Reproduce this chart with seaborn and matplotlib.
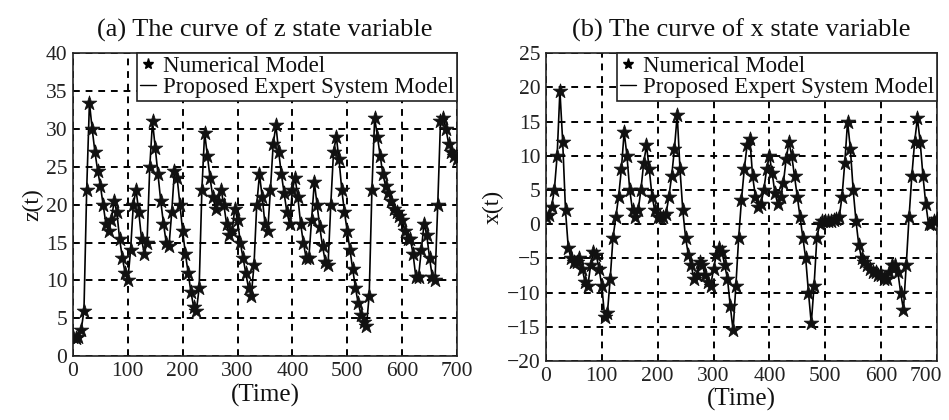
import numpy as np
import pandas as pd
import matplotlib
matplotlib.use("Agg")
import matplotlib.pyplot as plt
import matplotlib.transforms as mtransforms
import seaborn as sns
from matplotlib.lines import Line2D

# ---------------- data (step of 5 time units) ----------------
time = list(range(0, 705, 5))

z_values = [
    2.5, 2.4, 2.5, 3.5, 6, 22, 33.5, 30, 27, 24.5,
    22.5, 20, 17.5, 16.5, 18, 20.5, 19, 15.5, 13, 11,
    10, 14, 20, 22, 19, 15.5, 13.5, 15, 25, 31,
    27.5, 24, 20.5, 17.5, 15, 14.5, 19, 24.5, 23.5, 20,
    16.5, 13.5, 11, 8.5, 6.5, 6, 9, 22, 29.5, 26.5,
    23.5, 21, 19.5, 20.5, 22, 20, 17.5, 16, 16.5, 19.5,
    18, 15, 13, 11, 9, 8, 12, 20, 24, 21,
    17.5, 16.5, 22, 28, 30.5, 27, 24, 21.5, 19, 17.5,
    22, 23.5, 21, 17.5, 15, 13, 13, 18, 23, 20,
    17, 14.5, 12.5, 12, 20, 27, 29, 26, 22, 19,
    16.5, 14, 11.5, 9, 7, 5.5, 4.5, 4, 8, 22,
    31.5, 29, 26.5, 24, 22.5, 21.5, 20.5, 19.5, 19, 18.5,
    18, 16.5, 15.5, 15.5, 13.5, 10.5, 10.5, 14, 17.5, 16,
    13, 10.5, 10, 20, 31, 31.5, 30, 28, 27, 26.5,
    26,
]

x_values = [
    1.0, 1.3, 2.5, 5, 10, 19.5, 12, 2, -3.5, -5,
    -5.5, -5.5, -5, -6.5, -8.5, -9, -6, -4, -4.5, -6.5,
    -9, -13.5, -13, -8, -2, 1, 4, 8, 13.5, 10,
    5, 2, 1, 2, 5, 9, 11.5, 8, 4, 2,
    1, 1, 1, 1.5, 4, 7, 11, 16, 8, 2,
    -2, -4.5, -6, -8, -7.5, -5.5, -6, -7.5, -8.5, -9,
    -6.5, -4.5, -3.5, -4, -6, -8, -12, -15.5, -9, -2,
    3.5, 8, 11.5, 12.5, 7, 4, 2.5, 3, 5, 8,
    10, 7.5, 4.5, 3, 4, 6, 9.5, 12, 10, 7,
    4, 1, -2, -5, -10, -14.5, -9, -2, 0, 0.5,
    0.5, 0.5, 0.5, 0.6, 0.7, 1, 4, 9, 15, 11,
    5, 0.5, -3, -5, -5.5, -6, -6.5, -7, -7, -7.5,
    -7.5, -8, -8, -7, -6, -6, -7, -10, -12.5, -6,
    1, 7, 12, 15.5, 12, 7, 3, 0, 0, 0.5,
    0.8,
]

# both models coincide in the reference figure
z_numerical = z_values
z_expert = z_values
x_numerical = x_values
x_expert = x_values

titles = ["(a) The curve of z state variable", "(b) The curve of x state variable"]
ylabels = ["z(t)", "x(t)"]
legend_labels = ["Numerical Model", "Proposed Expert System Model"]
xticks = [0, 100, 200, 300, 400, 500, 600, 700]
z_ticks = [0, 5, 10, 15, 20, 25, 30, 35, 40]
x_ticks = [-20, -15, -10, -5, 0, 5, 10, 15, 20, 25]

# ---------------- style ----------------
sns.set_style("white")
plt.rcParams["font.family"] = ["Liberation Serif", "DejaVu Serif"]

fig = plt.figure(figsize=(9.49, 4.2), dpi=100)
ax1 = fig.add_axes([0.0769, 0.152, 0.4046, 0.721])
ax2 = fig.add_axes([0.5753, 0.1405, 0.4120, 0.733])

panels = [
    (ax1, z_numerical, z_expert, titles[0], ylabels[0], z_ticks, (0, 40)),
    (ax2, x_numerical, x_expert, titles[1], ylabels[1], x_ticks, (-20, 25)),
]

for ax, num, exp, title, ylab, yt, ylim in panels:
    df = pd.DataFrame({"Time": time, "num": num, "exp": exp})
    sns.lineplot(data=df, x="Time", y="exp", ax=ax, color="black", lw=1.2, zorder=3)
    sns.scatterplot(data=df, x="Time", y="num", ax=ax, marker="*", s=120,
                    color="#111111", edgecolor="#111111", linewidth=0.6, zorder=4)
    ax.set_xlim(0, 700)
    ax.set_ylim(*ylim)
    ax.set_xticks(xticks)
    ax.set_yticks(yt)
    ax.tick_params(direction="in", length=3, labelsize=15.5, colors="#222222", pad=4)
    ax.grid(True, color="black", linestyle=(0, (3.5, 3)), linewidth=1.4)
    ax.set_axisbelow(True)
    for sp in ax.spines.values():
        sp.set_color("#222222")
        sp.set_linewidth(1.2)
    ax.set_title(title, fontsize=19, pad=12, color="#111111")
    ax.set_xlabel("(Time)", fontsize=18, labelpad=2, color="#111111")
    ax.set_ylabel(ylab, fontsize=17, labelpad=2, color="#111111")
    handles = [
        Line2D([], [], color="black", marker="*", linestyle="none", markersize=8),
        Line2D([], [], color="black", lw=1.0),
    ]
    leg = ax.legend(handles, legend_labels, loc="upper right", borderaxespad=0,
                    fontsize=16.5, frameon=True, fancybox=False, framealpha=1,
                    handlelength=0.7, handletextpad=0.3, labelspacing=0.0,
                    borderpad=0.12)
    leg.get_frame().set_edgecolor("#222222")
    leg.get_frame().set_linewidth(1.2)
    leg.set_zorder(10)
    for t in leg.get_texts():
        t.set_color("#111111")

# keep the last tick label of the right panel inside the canvas
fig.canvas.draw()
last_label = ax2.get_xticklabels()[-1]
last_label.set_transform(last_label.get_transform() +
                         mtransforms.ScaledTranslation(-8 / 72, 0, fig.dpi_scale_trans))

fig.savefig("out.png", dpi=100)
